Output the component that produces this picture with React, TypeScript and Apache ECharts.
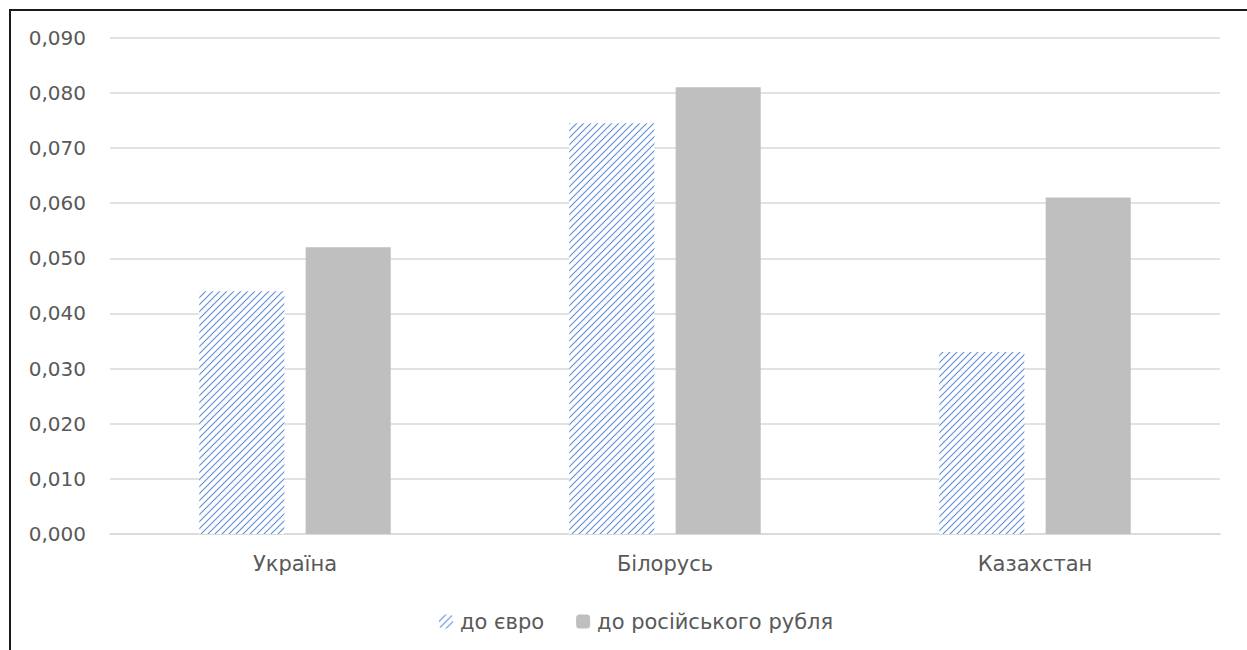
import React, { useEffect, useRef } from "react";
import * as echarts from "echarts";

const categories = ["Україна", "Білорусь", "Казахстан"];
const seriesNames = ["до євро", "до російського рубля"];
const euroValues = [0.044, 0.0745, 0.033];
const rubleValues = [0.052, 0.081, 0.061];

function makeHatch(): HTMLCanvasElement {
  const s = 7;
  const c = document.createElement("canvas");
  c.width = s;
  c.height = s;
  const ctx = c.getContext("2d")!;
  ctx.fillStyle = "#ffffff";
  ctx.fillRect(0, 0, s, s);
  ctx.strokeStyle = "#5f8fd8";
  ctx.lineWidth = 1.1;
  ctx.beginPath();
  ctx.moveTo(-1, s + 1);
  ctx.lineTo(s + 1, -1);
  ctx.moveTo(-1, 1);
  ctx.lineTo(1, -1);
  ctx.moveTo(s - 1, s + 1);
  ctx.lineTo(s + 1, s - 1);
  ctx.stroke();
  return c;
}

export default function App() {
  const ref = useRef<HTMLDivElement>(null);
  useEffect(() => {
    document.body.style.margin = "0";
    const chart = echarts.init(ref.current!, null, { renderer: "svg" });
    const hatch = makeHatch();
    const font = "DejaVu Sans";
    chart.setOption({
      animation: false,
      backgroundColor: "#ffffff",
      textStyle: { fontFamily: font },
      grid: { left: 110, right: 27, top: 37.7, bottom: 116, containLabel: false },
      legend: {
        data: seriesNames,
        top: 606,
        left: 434,
        itemWidth: 14,
        itemHeight: 14,
        itemGap: 32,
        textStyle: { color: "#595959", fontSize: 21, fontFamily: font, padding: [0, 0, 0, 2] },
      },
      xAxis: {
        type: "category",
        data: categories,
        axisLine: { lineStyle: { color: "#d9d9d9", width: 1.5 } },
        axisTick: { show: false },
        axisLabel: { color: "#595959", fontSize: 21, margin: 19, fontFamily: font },
      },
      yAxis: {
        type: "value",
        min: 0,
        max: 0.09,
        interval: 0.01,
        axisLine: { show: false },
        axisTick: { show: false },
        splitLine: { lineStyle: { color: "#d9d9d9", width: 1.5 } },
        axisLabel: {
          color: "#595959",
          fontSize: 20,
          margin: 24,
          fontFamily: font,
          formatter: (v: number) => v.toFixed(3).replace(".", ","),
        },
      },
      series: [
        {
          name: seriesNames[0],
          type: "bar",
          data: euroValues,
          barWidth: "23%",
          barGap: "25%",
          itemStyle: {
            color: { image: hatch, repeat: "repeat", imageWidth: 7, imageHeight: 7 } as any,
          },
        },
        {
          name: seriesNames[1],
          type: "bar",
          data: rubleValues,
          barWidth: "23%",
          itemStyle: { color: "#bfbfbf" },
        },
      ],
      graphic: [
        {
          type: "rect",
          shape: { x: 10, y: 10, width: 1300, height: 700 },
          style: { fill: "none", stroke: "#1a1a1a", lineWidth: 2 },
          silent: true,
        },
      ],
    });
    return () => chart.dispose();
  }, []);
  return <div ref={ref} style={{ width: 1247, height: 650 }} />;
}
